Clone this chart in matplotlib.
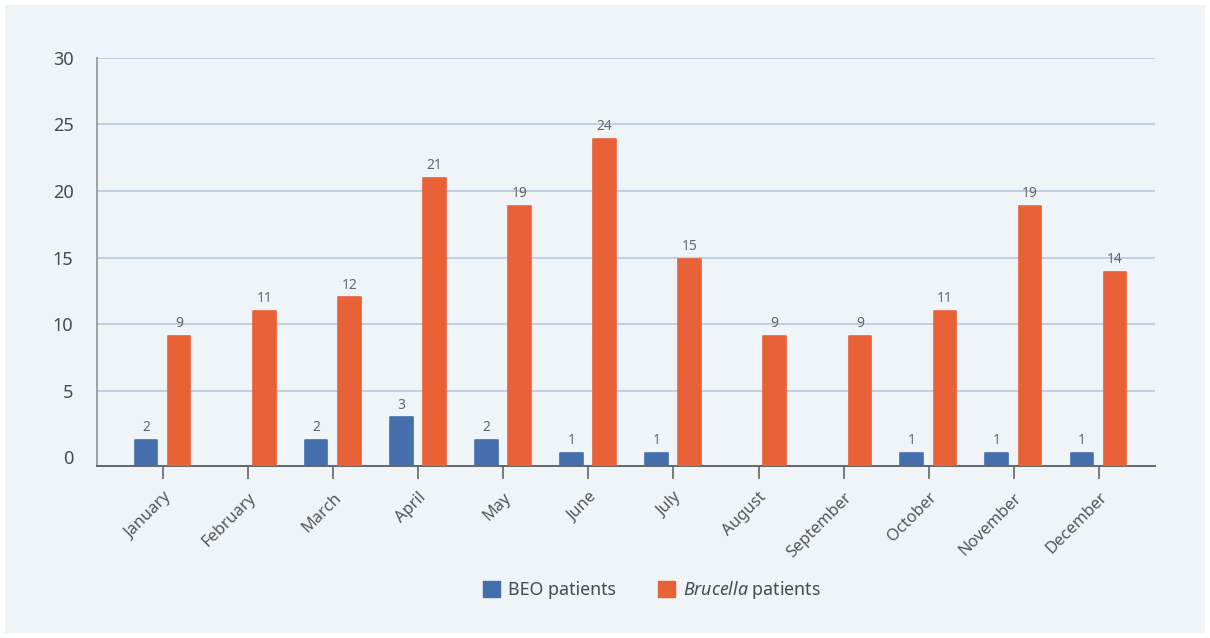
import numpy as np
import matplotlib
matplotlib.use("Agg")
import matplotlib.pyplot as plt
from matplotlib.patches import Rectangle, Patch

plt.rcParams['font.family'] = ['Noto Sans', 'DejaVu Sans']
plt.rcParams['mathtext.fontset'] = 'custom'
plt.rcParams['mathtext.it'] = 'Noto Sans:italic'
plt.rcParams['mathtext.rm'] = 'Noto Sans'

months = ["January", "February", "March", "April", "May", "June", "July",
          "August", "September", "October", "November", "December"]
# bar heights as drawn, and the labels printed above them
beo_heights = [1.3, 0, 1.3, 3.0, 1.3, 0.3, 0.3, 0, 0, 0.3, 0.3, 0.3]
beo_labels = [2, None, 2, 3, 2, 1, 1, None, None, 1, 1, 1]
bru_heights = [9.1, 11, 12, 21, 18.85, 23.9, 14.9, 9.1, 9.1, 11, 18.85, 13.9]
bru_labels = [9, 11, 12, 21, 19, 24, 15, 9, 9, 11, 19, 14]
yticks = [0, 5, 10, 15, 20, 25, 30]

BLUE = "#456fac"
ORANGE = "#e86137"
BG = "#eff4f8"
TXT = "#4a4a4a"

fig = plt.figure(figsize=(12.1, 6.38), dpi=100, facecolor="white")
fig.patches.append(Rectangle((5 / 1210, 5 / 638), 1200 / 1210, 628 / 638,
                             transform=fig.transFigure, facecolor=BG,
                             edgecolor="none", zorder=-10))
ax = fig.add_axes([97 / 1210, 172 / 638, 1058 / 1210, 408.3 / 638])
ax.set_facecolor("none")

ymin = -0.65
x = np.arange(len(months))
w = 0.265
for xi, h, lab in zip(x - 0.2, beo_heights, beo_labels):
    if lab is None:
        continue
    ax.bar(xi, h - ymin, bottom=ymin, width=w, color=BLUE, edgecolor=BLUE,
           linewidth=1.2, joinstyle="round", zorder=3)
    ax.annotate(str(lab), (xi, h), xytext=(0, 3.5), textcoords="offset points",
                ha="center", va="bottom", fontsize=10, color="#666666")
for xi, h, lab in zip(x + 0.19, bru_heights, bru_labels):
    ax.bar(xi, h - ymin, bottom=ymin, width=w, color=ORANGE, edgecolor=ORANGE,
           linewidth=1.2, joinstyle="round", zorder=3)
    ax.annotate(str(lab), (xi, h), xytext=(0, 3.5), textcoords="offset points",
                ha="center", va="bottom", fontsize=10, color="#666666")

ax.set_xlim(-0.776, 11.66)
ax.set_ylim(ymin, 30)
for t in yticks:
    if t > 0:
        ax.axhline(t, color="#b4c4de", linewidth=1.1, zorder=1)
ax.set_yticks(yticks)
ax.tick_params(axis="y", length=0, pad=17, labelsize=13, labelcolor=TXT)
ax.set_xticks(x)
ax.set_xticklabels(months, rotation=45, ha="right", va="top",
                   rotation_mode="anchor")
ax.tick_params(axis="x", length=9, width=1.2, color="#666666", pad=8,
               labelsize=11.8, labelcolor="#555555")

for s in ["top", "right"]:
    ax.spines[s].set_visible(False)
ax.spines["left"].set_color("#9a9a9a")
ax.spines["left"].set_linewidth(1.3)
ax.spines["bottom"].set_color("#666666")
ax.spines["bottom"].set_linewidth(1.4)

handles = [Patch(facecolor=BLUE, edgecolor=BLUE, label="BEO patients"),
           Patch(facecolor=ORANGE, edgecolor=ORANGE,
                 label=r"$\mathit{Brucella}$ patients")]
fig.legend(handles=handles, loc="center", bbox_to_anchor=(652 / 1210, 1 - 590 / 638),
           ncol=2, frameon=False, fontsize=12.8, handlelength=0.95,
           handleheight=0.95, handletextpad=0.45, columnspacing=2.4,
           labelcolor=TXT)

fig.savefig("out.png", dpi=100, facecolor=fig.get_facecolor())
